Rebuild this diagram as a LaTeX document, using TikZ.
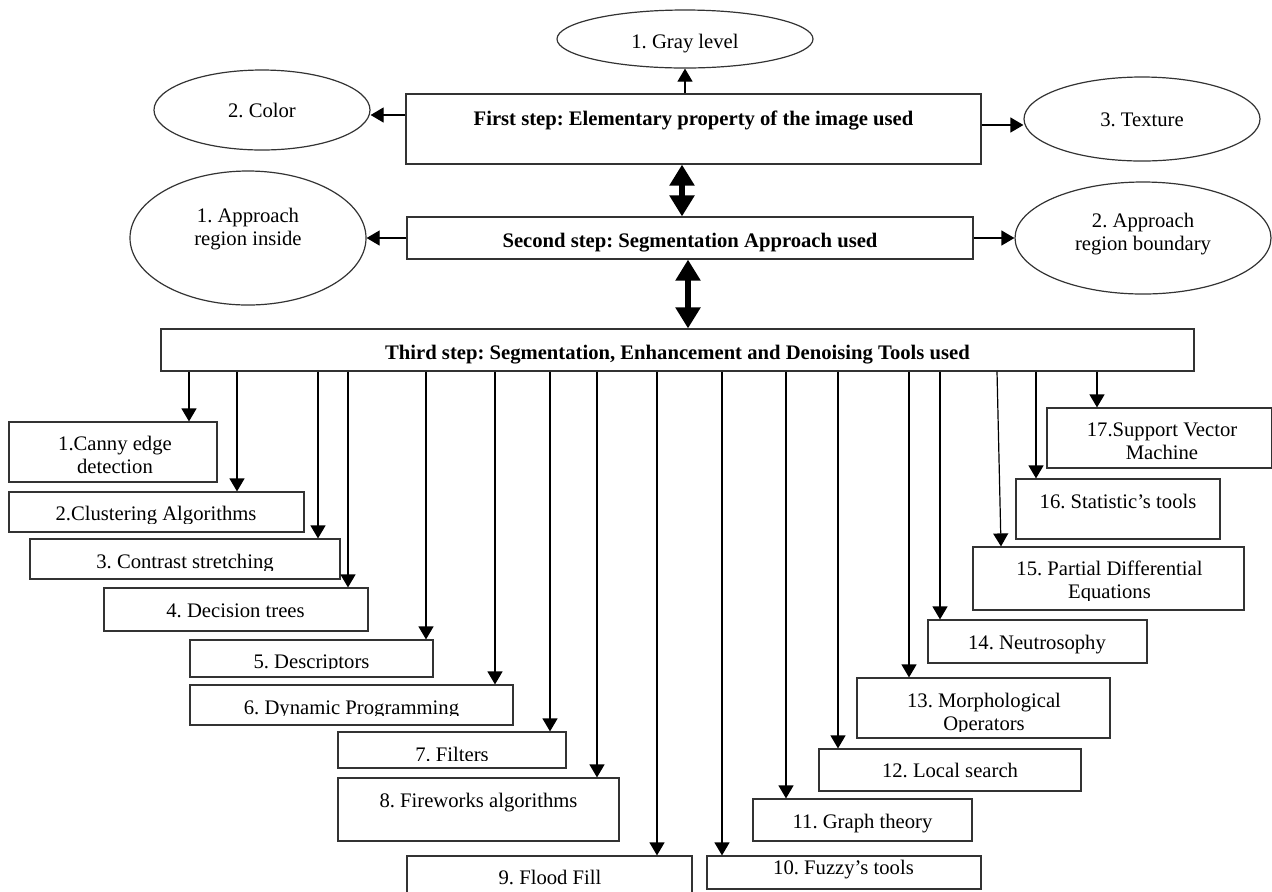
\documentclass[tikz,border=0pt]{standalone}
\usepackage{fontspec}
\setmainfont{Liberation Serif}
\usetikzlibrary{arrows.meta,shapes.geometric,fit}
\tikzset{
  box/.style={draw=black!80, line width=0.6pt, inner sep=0pt},
  ell/.style={ellipse, draw=black!80, line width=0.6pt, inner sep=0pt},
  lbl/.style={inner sep=0pt, font=\fontsize{10.33pt}{11.25pt}\selectfont, align=center, anchor=base},
  blbl/.style={lbl, font=\fontsize{10.33pt}{11.25pt}\selectfont\bfseries},
  arr/.style={line width=0.6pt, -{Triangle[length=6.5pt,width=7.5pt]}},
  dbl/.style={line width=3.4pt, {Triangle[length=10.5pt,width=12pt]}-{Triangle[length=10.5pt,width=12pt]}},
}
\begin{document}
\frenchspacing
\begin{tikzpicture}[x=0.5pt,y=-0.5pt]
\useasboundingbox (0,0) rectangle (1272,891);
\clip (0,0) rectangle (1272,891);

% ---------- first step ----------
\node[box, fit={(406,94) (981,164)}] (fb) {};
\node[blbl] (tfb) at (693.5,125) {First step: Elementary property of the image used};
\node[ell, minimum width=128pt, minimum height=29pt] (gray) at (685,39) {};
\node[lbl] (tgray) at (685,48) {1. Gray level};
\node[ell, minimum width=108pt, minimum height=40pt] (col) at (262,110) {};
\node[lbl] (tcol) at (262,117) {2. Color};
\node[ell, minimum width=118pt, minimum height=42pt] (tex) at (1142,119) {};
\node[lbl] (ttex) at (1142,126) {3. Texture};

\draw[arr] (fb.north -| gray.south) -- (gray.south);
\draw[arr] ([yshift=7pt]fb.west) -- ([yshift=7pt]fb.west -| col.east);
\draw[arr] ([yshift=2pt]fb.east) -- ([yshift=2pt]fb.east -| tex.west);

% ---------- second step ----------
\node[box, fit={(407,217) (973,259)}] (sb) {};
\node[blbl] (tsb) at (690,247) {Second step: Segmentation Approach used};
\node[ell, minimum width=118pt, minimum height=67pt] (ins) at (248,238) {};
\node[lbl] (tins) at (248,245) {1. Approach\\region inside};
\node[ell, minimum width=128pt, minimum height=56pt] (bnd) at (1143,238) {};
\node[lbl] (tbnd) at (1143,250) {2. Approach\\region boundary};

\draw[arr] (sb.west) -- (ins.east);
\draw[arr] (sb.east) -- (bnd.west);
\draw[dbl] (fb.south -| 682,0) -- (sb.north -| 682,0);

% ---------- third step ----------
\node[box, fit={(161,329) (1194,371)}] (tb) {};
\node[blbl] (ttb) at (677.5,359) {Third step: Segmentation, Enhancement and Denoising Tools used};
\draw[dbl] (sb.south -| 688,0) -- (tb.north -| 688,0);

% ---------- tools ----------
\node[box, fit={(9,422) (217,482)}] (b1) {};
\begin{scope}\clip (9,422) rectangle (217,475);
\node[lbl] (t1) at (115,473) {1.Canny edge\\detection};
\end{scope}
\node[box, fit={(9,492) (304,532)}] (b2) {};
\begin{scope}\clip (9,492) rectangle (304,523);
\node[lbl] (t2) at (156,520) {2.Clustering Algorithms};
\end{scope}
\node[box, fit={(30,539) (340,579)}] (b3) {};
\begin{scope}\clip (30,539) rectangle (340,570);
\node[lbl] (t3) at (185,568) {3. Contrast stretching};
\end{scope}
\node[box, fit={(104,588) (368,631)}] (b4) {};
\node[lbl] (t4) at (235.5,617) {4. Decision trees};
\node[box, fit={(190,640) (433,677)}] (b5) {};
\begin{scope}\clip (190,640) rectangle (433,668.5);
\node[lbl] (t5) at (311.5,668) {5. Descriptors};
\end{scope}
\node[box, fit={(190,685) (513,725)}] (b6) {};
\begin{scope}\clip (190,685) rectangle (513,715);
\node[lbl] (t6) at (351.5,714) {6. Dynamic Programming};
\end{scope}
\node[box, fit={(338,732) (566,768)}] (b7) {};
\begin{scope}\clip (338,732) rectangle (566,760.5);
\node[lbl] (t7) at (452,761) {7. Filters};
\end{scope}
\node[box, fit={(338,778) (619,841)}] (b8) {};
\node[lbl] (t8) at (478.5,807) {8. Fireworks algorithms};
\node[box, fit={(407,856) (692,900)}] (b9) {};
\begin{scope}\clip (407,856) rectangle (692,884.5);
\node[lbl] (t9) at (550,884) {9. Flood Fill};
\end{scope}
\node[box, fit={(707,856) (981,889)}] (b10) {};
\node[lbl] (t10) at (843.5,874) {10. Fuzzy’s tools};
\node[box, fit={(753,799) (972,841)}] (b11) {};
\node[lbl] (t11) at (862.5,828) {11. Graph theory};
\node[box, fit={(819,749) (1081,791)}] (b12) {};
\node[lbl] (t12) at (950,777) {12. Local search};
\node[box, fit={(857,678) (1110,738)}] (b13) {};
\begin{scope}\clip (857,678) rectangle (1110,731);
\node[lbl] (t13) at (984,730) {13. Morphological\\Operators};
\end{scope}
\node[box, fit={(928,620) (1147,663)}] (b14) {};
\node[lbl] (t14) at (1037,649) {14. Neutrosophy};
\node[box, fit={(973,547) (1244,610)}] (b15) {};
\begin{scope}\clip (973,547) rectangle (1244,600);
\node[lbl] (t15) at (1109.5,598) {15. Partial Differential\\Equations};
\end{scope}
\node[box, fit={(1016,479) (1220,539)}] (b16) {};
\node[lbl] (t16) at (1118,508) {16. Statistic’s tools};
\node[box, fit={(1047,408) (1271.5,468)}] (b17) {};
\begin{scope}\clip (1047,408) rectangle (1272,461);
\node[lbl] (t17) at (1162,459) {17.Support Vector\\Machine};
\end{scope}

\foreach \x/\b in {189/b1, 237/b2, 318/b3, 348/b4, 426/b5, 495/b6, 550/b7, 597/b8,
                   657/b9, 722/b10, 786/b11, 838/b12, 909/b13, 940/b14, 1036/b16, 1097/b17}
  \draw[arr] (tb.south -| \x,0) -- (\b.north -| \x,0);
\draw[arr] (tb.south -| 997,0) -- (b15.north -| 1001,0);
\end{tikzpicture}
\end{document}
